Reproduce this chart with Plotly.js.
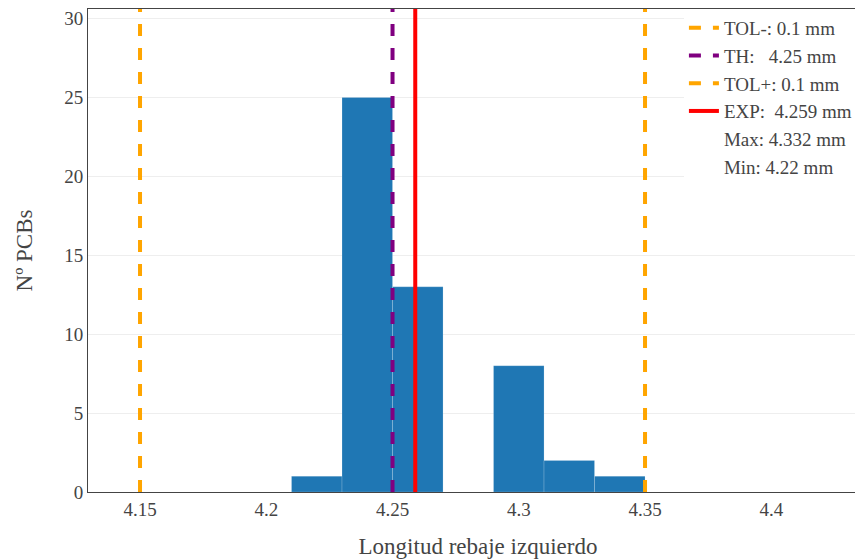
<!DOCTYPE html>
<html>
<head>
<meta charset="utf-8">
<script src="https://cdn.plot.ly/plotly-3.0.1.min.js"></script>
<style>html,body{margin:0;padding:0;overflow:hidden;background:#fff;}</style>
</head>
<body>
<div id="chart"></div>
<script>
// Histogram bins (centres) and counts
const binCenters = [4.22, 4.24, 4.26, 4.28, 4.30, 4.32, 4.34];
const binCounts  = [1, 25, 13, 0, 8, 2, 1];
const binWidth = 0.02;

// Reference lines
const tolMinus = 4.15;
const nominal = 4.25;
const tolPlus = 4.35;
const expMean = 4.259;
const maxVal = 4.332;
const minVal = 4.22;
const yTop = 30.6;

const legendNames = [
  "TOL-: 0.1 mm",
  "TH:\u00a0\u00a0 4.25 mm",
  "TOL+: 0.1 mm",
  "EXP:\u00a0 4.259 mm",
  "Max: 4.332 mm",
  "Min: 4.22 mm"
];

const xTicks = [4.15, 4.2, 4.25, 4.3, 4.35, 4.4];
const xTickText = ["4.15", "4.2", "4.25", "4.3", "4.35", "4.4"];
const yTicks = [0, 5, 10, 15, 20, 25, 30];

const font = "Liberation Serif, Times New Roman, serif";

const traces = [
  {type: "bar", x: binCenters, y: binCounts, width: binWidth,
   marker: {color: "#1f77b4", line: {color: "rgba(255,255,255,0.35)", width: 0.5}},
   showlegend: false, hoverinfo: "x+y"},
  {type: "scatter", mode: "lines", x: [tolMinus, tolMinus], y: [0, yTop], name: legendNames[0],
   line: {color: "orange", width: 4, dash: "dash"}},
  {type: "scatter", mode: "lines", x: [nominal, nominal], y: [0, yTop], name: legendNames[1],
   line: {color: "purple", width: 4, dash: "dash"}},
  {type: "scatter", mode: "lines", x: [tolPlus, tolPlus], y: [0, yTop], name: legendNames[2],
   line: {color: "orange", width: 4, dash: "dash"}},
  {type: "scatter", mode: "lines", x: [expMean, expMean], y: [0, yTop], name: legendNames[3],
   line: {color: "red", width: 4}},
  {type: "scatter", mode: "lines", x: [maxVal], y: [null], name: legendNames[4],
   line: {color: "rgba(0,0,0,0)", width: 0}},
  {type: "scatter", mode: "lines", x: [minVal], y: [null], name: legendNames[5],
   line: {color: "rgba(0,0,0,0)", width: 0}}
];

const layout = {
  width: 868, height: 559,
  margin: {l: 88, r: 0, t: 9, b: 67},
  paper_bgcolor: "#fff", plot_bgcolor: "#fff",
  font: {family: font, size: 19, color: "#444"},
  bargap: 0,
  xaxis: {
    range: [4.1294, 4.4383], tickvals: xTicks, ticktext: xTickText,
    showgrid: false, zeroline: false, showline: true, mirror: true,
    linecolor: "#444", linewidth: 1, ticks: "",
    title: {text: "Longitud rebaje izquierdo", font: {size: 23, family: font, color: "#444"}},
    tickfont: {size: 19}
  },
  yaxis: {
    range: [0, yTop], tickvals: yTicks,
    showgrid: true, gridcolor: "#eee", zeroline: false, showline: true, mirror: true,
    linecolor: "#444", linewidth: 1, ticks: "",
    title: {text: "Nº PCBs", font: {size: 23, family: font, color: "#444"}},
    tickfont: {size: 19}
  },
  legend: {x: 0.764, xanchor: "left", y: 1, yanchor: "top", bgcolor: "#fff",
           font: {size: 19, family: font, color: "#444"}}
};

Plotly.newPlot("chart", traces, layout, {displayModeBar: false, staticPlot: true});
</script>
</body>
</html>
